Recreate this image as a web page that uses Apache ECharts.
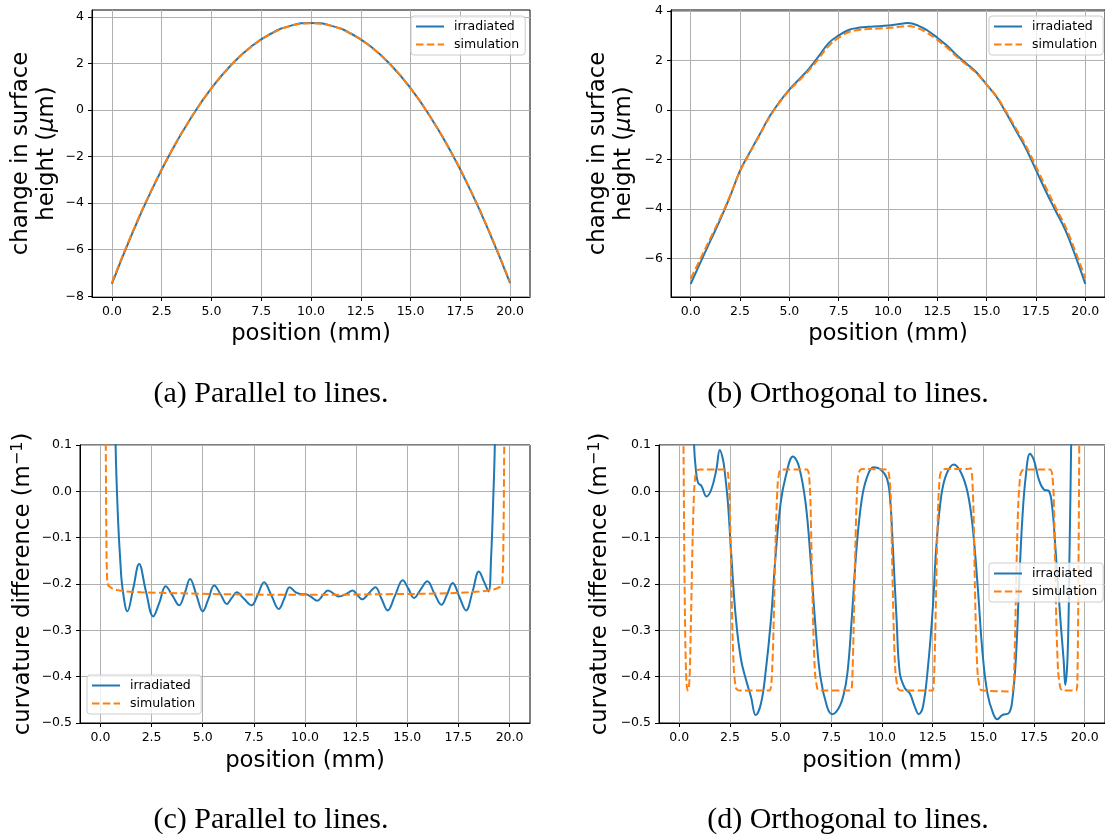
<!DOCTYPE html>
<html>
<head>
<meta charset="utf-8">
<script src="https://cdn.jsdelivr.net/npm/echarts@6/dist/echarts.min.js"></script>
<style>
  html, body { margin: 0; padding: 0; background: #ffffff; }
  #chart { width: 1105px; height: 836px; }
</style>
</head>
<body>
<div id="chart"></div>
<script>
// ---- (a) change in surface height, parallel to lines ----
const posA = [0, 1, 2, 3, 4, 5, 6, 7, 8, 9, 10, 11, 12, 13, 14, 15, 16, 17, 18, 19, 20];
const irrA = [-7.47, -5.34, -3.43, -1.75, -0.30, 0.94, 1.95, 2.73, 3.29, 3.63, 3.74,
              3.63, 3.29, 2.73, 1.95, 0.94, -0.30, -1.75, -3.43, -5.34, -7.43];
const simA = [-7.42, -5.31, -3.41, -1.74, -0.30, 0.93, 1.94, 2.72, 3.28, 3.62, 3.73,
              3.62, 3.28, 2.72, 1.94, 0.93, -0.30, -1.74, -3.41, -5.31, -7.40];

// ---- (b) change in surface height, orthogonal to lines ----
const posB = [0, 0.5, 1, 1.5, 2, 2.5, 3, 3.5, 4, 4.5, 5, 5.5, 6, 6.5, 7, 7.5, 8, 8.5, 9, 9.5, 10,
              10.5, 11, 11.5, 12, 12.5, 13, 13.5, 14, 14.5, 15, 15.5, 16, 16.5, 17, 17.5, 18, 18.5, 19, 19.5, 20];
const irrB = [-7.03, -6.15, -5.28, -4.42, -3.48, -2.45, -1.70, -0.98, -0.25, 0.33, 0.83,
              1.25, 1.68, 2.19, 2.72, 3.02, 3.24, 3.33, 3.37, 3.39, 3.42,
              3.47, 3.52, 3.43, 3.22, 2.93, 2.60, 2.21, 1.87, 1.51, 1.03,
              0.54, -0.13, -0.85, -1.56, -2.42, -3.28, -4.08, -4.87, -5.90, -7.03];
const simB = [-6.82, -6.00, -5.18, -4.35, -3.45, -2.47, -1.72, -1.00, -0.28, 0.30, 0.80,
              1.20, 1.62, 2.10, 2.60, 2.93, 3.15, 3.24, 3.28, 3.30, 3.32,
              3.36, 3.40, 3.32, 3.12, 2.84, 2.52, 2.15, 1.82, 1.48, 1.03,
              0.56, -0.08, -0.76, -1.46, -2.28, -3.12, -3.94, -4.72, -5.72, -6.80];

// ---- (c) curvature difference, parallel to lines ----
const posIrrC = [0.65, 0.74, 0.85, 0.97, 1.08, 1.32, 1.60, 1.89, 2.22, 2.58, 2.88, 3.19, 3.52, 3.85,
                 4.12, 4.38, 4.70, 5.00, 5.28, 5.56, 5.87, 6.18, 6.42, 6.66, 7.02, 7.38, 7.70, 8.00,
                 8.36, 8.72, 9.00, 9.25, 9.55, 9.85, 10.05, 10.30, 10.60, 10.86, 11.12, 11.38, 11.64,
                 12.00, 12.33, 12.56, 12.79, 13.12, 13.44, 13.74, 14.04, 14.40, 14.78, 15.05, 15.33,
                 15.65, 15.98, 16.32, 16.67, 16.95, 17.22, 17.55, 17.87, 18.20, 18.50, 18.75, 18.97,
                 19.10, 19.20, 19.28, 19.36];
const irrC = [0.40, 0.10, -0.05, -0.15, -0.21, -0.259, -0.21, -0.157, -0.215, -0.270, -0.240, -0.205,
              -0.225, -0.246, -0.220, -0.189, -0.225, -0.259, -0.232, -0.203, -0.222, -0.243, -0.230,
              -0.218, -0.232, -0.246, -0.222, -0.196, -0.225, -0.254, -0.230, -0.207, -0.218, -0.222,
              -0.222, -0.228, -0.236, -0.225, -0.214, -0.220, -0.227, -0.222, -0.214, -0.224, -0.233,
              -0.220, -0.207, -0.232, -0.257, -0.225, -0.192, -0.210, -0.230, -0.212, -0.194, -0.220,
              -0.245, -0.222, -0.198, -0.228, -0.257, -0.215, -0.173, -0.195, -0.216, -0.140, -0.020,
              0.10, 0.40];
const posSimC = [0.24, 0.26, 0.28, 0.30, 0.33, 0.38, 0.55, 0.80, 1.20, 2.00, 3.00, 4.00, 5.00, 6.00,
                 8.00, 10.00, 12.00, 14.00, 16.00, 17.00, 18.00, 18.80, 19.30, 19.55, 19.65, 19.69,
                 19.72, 19.74, 19.76];
const simC = [0.50, 0.10, -0.05, -0.15, -0.195, -0.203, -0.209, -0.213, -0.216, -0.218, -0.219, -0.220,
              -0.221, -0.222, -0.223, -0.223, -0.223, -0.222, -0.221, -0.220, -0.218, -0.215, -0.211,
              -0.206, -0.198, -0.15, -0.03, 0.10, 0.50];

// ---- (d) curvature difference, orthogonal to lines ----
const posIrrD = [0.60, 0.73, 0.82, 0.93, 1.09, 1.34, 1.58, 1.83, 2.00, 2.15, 2.23, 2.40, 2.56, 2.80,
                 3.05, 3.30, 3.54, 3.77, 4.03, 4.27, 4.52, 4.76, 5.00, 5.25, 5.61, 5.90, 6.23, 6.48,
                 6.72, 6.96, 7.29, 7.54, 7.86, 8.10, 8.30, 8.50, 8.75, 9.00, 9.25, 9.58, 9.90, 10.23,
                 10.39, 10.55, 10.72, 10.88, 11.13, 11.37, 11.62, 11.81, 12.02, 12.27, 12.51, 12.68,
                 12.92, 13.17, 13.54, 13.90, 14.23, 14.47, 14.72, 14.96, 15.20, 15.48, 15.69, 15.93,
                 16.27, 16.43, 16.60, 16.76, 16.92, 17.09, 17.30, 17.49, 17.74, 17.98, 18.23, 18.39,
                 18.55, 18.80, 18.96, 19.04, 19.16, 19.25, 19.33, 19.40];
const irrD = [0.35, 0.10, 0.046, 0.018, 0.012, -0.011, 0.004, 0.047, 0.089, 0.070, 0.047, -0.025,
              -0.134, -0.278, -0.364, -0.408, -0.444, -0.483, -0.458, -0.386, -0.278, -0.134, -0.025,
              0.032, 0.075, 0.054, -0.025, -0.148, -0.292, -0.400, -0.465, -0.481, -0.468, -0.440,
              -0.390, -0.280, -0.120, -0.018, 0.029, 0.052, 0.048, 0.029, -0.011, -0.133, -0.277,
              -0.393, -0.425, -0.436, -0.465, -0.481, -0.465, -0.378, -0.249, -0.119, -0.011, 0.036,
              0.058, 0.040, -0.004, -0.076, -0.205, -0.349, -0.436, -0.479, -0.492, -0.483, -0.478,
              -0.450, -0.364, -0.205, -0.061, 0.032, 0.081, 0.068, 0.025, 0.004, 0.001, -0.032,
              -0.119, -0.277, -0.364, -0.418, -0.349, -0.133, 0.10, 0.35];
const posSimD = [0.18, 0.21, 0.25, 0.30, 0.35, 0.41, 0.47, 0.52, 0.59, 0.66, 0.73, 0.80, 0.90, 1.05,
                 2.30, 2.40, 2.47, 2.55, 2.62, 2.70, 2.80, 2.95, 4.45, 4.55, 4.63, 4.70, 4.78, 4.86,
                 4.95, 5.05, 6.30, 6.40, 6.47, 6.54, 6.62, 6.70, 6.82, 6.95, 8.45, 8.53, 8.60, 8.67,
                 8.74, 8.82, 8.92, 9.05, 10.25, 10.35, 10.43, 10.50, 10.58, 10.66, 10.78, 10.92,
                 12.48, 12.56, 12.63, 12.70, 12.77, 12.86, 12.97, 13.10, 14.25, 14.38, 14.45, 14.52,
                 14.58, 14.65, 14.73, 14.85, 15.00, 16.40, 16.50, 16.57, 16.64, 16.72, 16.82, 16.93,
                 17.05, 18.30, 18.40, 18.47, 18.54, 18.61, 18.69, 18.80, 18.92, 19.58, 19.64, 19.68,
                 19.71, 19.73, 19.75];
const simD = [0.40, 0.10, -0.15, -0.33, -0.41, -0.43, -0.425, -0.39, -0.25, -0.10, 0.0, 0.035, 0.046,
              0.047, 0.047, 0.040, 0.0, -0.15, -0.30, -0.39, -0.425, -0.43, -0.43, -0.41, -0.33, -0.20,
              -0.06, 0.02, 0.044, 0.047, 0.047, 0.035, -0.02, -0.17, -0.31, -0.395, -0.427, -0.43,
              -0.43, -0.41, -0.30, -0.15, -0.03, 0.035, 0.046, 0.048, 0.047, 0.035, -0.01, -0.15,
              -0.30, -0.39, -0.425, -0.43, -0.43, -0.41, -0.30, -0.15, -0.03, 0.035, 0.046, 0.048,
              0.048, 0.050, 0.030, -0.05, -0.20, -0.33, -0.40, -0.427, -0.43, -0.432, -0.41, -0.30,
              -0.15, -0.03, 0.035, 0.046, 0.047, 0.047, 0.035, -0.01, -0.16, -0.30, -0.39, -0.425,
              -0.43, -0.43, -0.40, -0.25, -0.05, 0.10, 0.40];

// ---- ticks, labels and names ----
const positionTicks = [0, 2.5, 5, 7.5, 10, 12.5, 15, 17.5, 20];
const heightTicksA = [-8, -6, -4, -2, 0, 2, 4];
const heightTicksB = [-6, -4, -2, 0, 2, 4];
const curvatureTicks = [-0.5, -0.4, -0.3, -0.2, -0.1, 0, 0.1];
const seriesNames = ['irradiated', 'simulation'];
const captions = ['(a) Parallel to lines.', '(b) Orthogonal to lines.',
                  '(c) Parallel to lines.', '(d) Orthogonal to lines.'];

const BLUE = '#1f77b4';
const ORANGE = '#ff7f0e';
const SANS = 'DejaVu Sans';
const TITLE_SIZE = 22.8;
const TICK_SIZE = 12.5;

const pairs = (xs, ys) => xs.map((x, i) => [x, ys[i]]);
const minus = s => s.replace('-', '\u2212');

// panel frames (pixels)
const grids = [
  { left: 92,  top: 10,  width: 438, height: 287 },
  { left: 671, top: 10,  width: 438, height: 287 },
  { left: 80,  top: 445, width: 450, height: 278 },
  { left: 659, top: 445, width: 450, height: 278 }
].map(g => Object.assign(g, { show: true, borderColor: '#000', borderWidth: 1, backgroundColor: 'transparent' }));

function baseAxis(gi, ticks, fmt) {
  return {
    gridIndex: gi,
    type: 'value',
    axisLine: { show: true, onZero: false, lineStyle: { color: '#000', width: 1 } },
    axisTick: { show: true, length: 4, customValues: ticks, lineStyle: { color: '#000', width: 1 } },
    axisLabel: {
      customValues: ticks, interval: 0, showMinLabel: true, showMaxLabel: true,
      margin: 8, fontFamily: SANS, fontSize: TICK_SIZE, color: '#000', formatter: fmt
    },
    splitLine: { show: true, lineStyle: { color: '#b0b0b0', width: 1 } }
  };
}

function xAxisFor(gi, gap) {
  return Object.assign(baseAxis(gi, positionTicks, v => minus(v.toFixed(1))), {
    min: -1, max: 21,
    name: 'position (mm)', nameLocation: 'middle', nameGap: gap,
    nameTextStyle: { fontFamily: SANS, fontSize: TITLE_SIZE, color: '#000' }
  });
}

const heightName = '{n|change in surface}\n{n|height (}{i|\u03bc}{n|m)}';
const curvatureName = '{n|curvature difference (m}{s|\u22121}{n|)}';
const nameRich = {
  n: { fontFamily: SANS, fontSize: TITLE_SIZE, color: '#000', lineHeight: 26 },
  i: { fontFamily: SANS, fontSize: TITLE_SIZE, fontStyle: 'italic', color: '#000', lineHeight: 26 },
  s: { fontFamily: SANS, fontSize: 16, color: '#000', verticalAlign: 'top' }
};

function yAxisFor(gi, min, max, ticks, fmt, name, gap) {
  return Object.assign(baseAxis(gi, ticks, fmt), {
    min: min, max: max,
    name: name, nameLocation: 'middle', nameGap: gap,
    nameTextStyle: { fontFamily: SANS, fontSize: TITLE_SIZE, color: '#000', lineHeight: 26, rich: nameRich }
  });
}

const intFmt = v => minus(String(v));
const decFmt = v => minus(v.toFixed(1));

function lineSeries(name, gi, data, dashed, smooth) {
  return {
    type: 'line', name: name, xAxisIndex: gi, yAxisIndex: gi, data: data,
    symbol: 'none', showSymbol: false, smooth: smooth,
    clip: true, silent: true, emphasis: { disabled: true },
    lineStyle: { color: dashed ? ORANGE : BLUE, width: 2, type: dashed ? [7.5, 3.3] : 'solid' },
    itemStyle: { color: dashed ? ORANGE : BLUE }
  };
}

function legendAt(left, top) {
  return {
    left: left, top: top, orient: 'vertical', data: seriesNames, selectedMode: false,
    itemWidth: 28, itemHeight: 14, itemGap: 5, padding: [4, 6, 4, 4],
    backgroundColor: 'rgba(255,255,255,0.8)', borderColor: '#cccccc', borderWidth: 1, borderRadius: 3,
    itemStyle: { opacity: 0 },
    textStyle: { fontFamily: SANS, fontSize: TICK_SIZE, color: '#000', padding: [0, 0, 0, 5] }
  };
}

const captionPos = [[271, 394], [848, 394], [271, 820], [848, 820]];

const option = {
  animation: false,
  backgroundColor: '#ffffff',
  grid: grids,
  xAxis: [xAxisFor(0, 26), xAxisFor(1, 26), xAxisFor(2, 27), xAxisFor(3, 27)],
  yAxis: [
    yAxisFor(0, -8.03, 4.30, heightTicksA, intFmt, heightName, 32),
    yAxisFor(1, -7.56, 4.05, heightTicksB, intFmt, heightName, 33.5),
    yAxisFor(2, -0.5, 0.1, curvatureTicks, decFmt, curvatureName, 44),
    yAxisFor(3, -0.5, 0.1, curvatureTicks, decFmt, curvatureName, 46)
  ],
  legend: [legendAt(411, 16), legendAt(989, 16), legendAt(87, 675), legendAt(989, 563)],
  series: [
    lineSeries('irradiated', 0, pairs(posA, irrA), false, true),
    lineSeries('simulation', 0, pairs(posA, simA), true, true),
    lineSeries('irradiated', 1, pairs(posB, irrB), false, 0.4),
    lineSeries('simulation', 1, pairs(posB, simB), true, 0.4),
    lineSeries('irradiated', 2, pairs(posIrrC, irrC), false, 0.4),
    lineSeries('simulation', 2, pairs(posSimC, simC), true, false),
    lineSeries('irradiated', 3, pairs(posIrrD, irrD), false, 0.4),
    lineSeries('simulation', 3, pairs(posSimD, simD), true, 0.2)
  ],
  graphic: captions.map((text, i) => ({
    type: 'text', x: captionPos[i][0], y: captionPos[i][1], silent: true,
    style: {
      text: text, fill: '#000', font: '30px "Liberation Serif"',
      align: 'center', verticalAlign: 'middle', textAlign: 'center', textVerticalAlign: 'middle'
    }
  }))
};

const chart = echarts.init(document.getElementById('chart'), null, { renderer: 'canvas' });
chart.setOption(option);
</script>
</body>
</html>
